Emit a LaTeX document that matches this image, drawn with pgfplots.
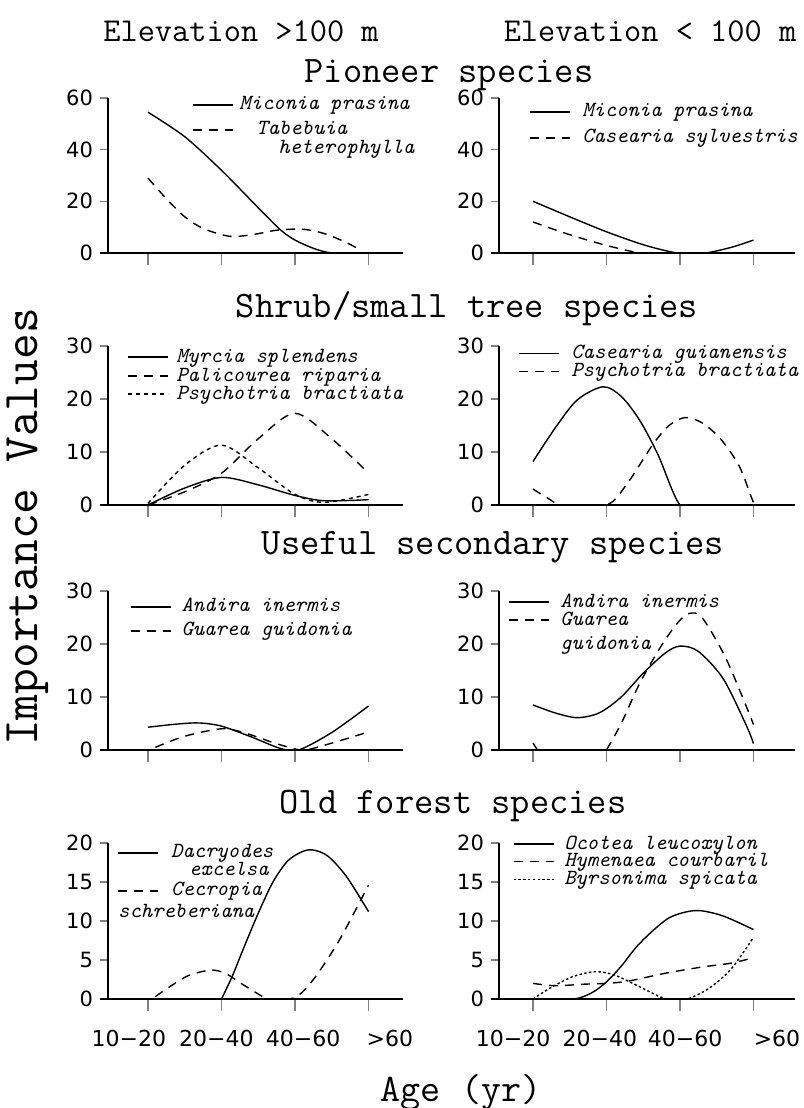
\documentclass[border=0pt]{standalone}
\usepackage{fontspec}
\usepackage{pgfplots}
\pgfplotsset{compat=1.18}
\newfontfamily\tickfont{DejaVu Sans}
\newcommand{\LE}[2]{\vrule height #1 depth 2.4pt width 0pt\relax #2}
\tikzset{
  dsh/.style={dash pattern=on 4.5pt off 3.5pt},
  dtt/.style={dash pattern=on 2pt off 2pt},
  fdt/.style={dash pattern=on 1.2pt off 1.2pt},
}
\pgfplotsset{
  panel/.style={
    scale only axis, anchor=south west,
    axis x line*=bottom, axis y line*=left,
    axis line style={-, line width=0.6pt},
    x axis line style={shorten <=-4pt},
    tick align=outside, major tick length=4pt,
    xtick style={/pgfplots/major tick length=6pt, line width=0.6pt},
    ytick style={line width=0.6pt},
    xtick={0,1,2,3}, xticklabels={{},{},{},{}},
    ymin=0,
    /pgf/number format/assume math mode=true,
    yticklabel style={font=\tickfont\fontsize{10.5}{12}\selectfont},
    xticklabel style={font=\tickfont\fontsize{11}{14}\selectfont, yshift=-12pt},
    every axis plot/.append style={line width=0.7pt, smooth, tension=0.5},
    legend image code/.code={\draw[##1] (0pt,2.5pt) -- (20pt,2.5pt);},
    legend style={draw=none, fill=none, inner sep=0pt, outer sep=0pt, anchor=north west,
      cells={anchor=base west},
      nodes={inner sep=0pt, font=\ttfamily\itshape\fontsize{10.8}{10.5}\selectfont},
      row sep=0pt},
  },
  lcol/.style={panel, width=147.5pt, xmin=-0.544, xmax=3.469},
  rcol/.style={panel, width=148pt, xmin=-0.463, xmax=3.565},
  agelabels/.style={
    extra x tick labels={10−20,20−40,40−60,>60},
    extra x tick style={xtick style={draw=none}, major tick length=0pt},
  },
}
\begin{document}
\begin{tikzpicture}
\useasboundingbox (0,0) rectangle (401.5pt,554pt);

% titles
\node[font=\ttfamily\fontsize{16.7}{20}\selectfont] at (120.5pt,538.5pt) {Elevation >100 m};
\node[font=\ttfamily\fontsize{16.7}{20}\selectfont] at (325pt,538.5pt) {Elevation < 100 m};
\node[font=\ttfamily\fontsize{18.7}{22}\selectfont] at (224.5pt,516.5pt) {Pioneer species};
\node[font=\ttfamily\fontsize{18.7}{22}\selectfont] at (233.5pt,399.5pt) {Shrub/small tree species};
\node[font=\ttfamily\fontsize{18.7}{22}\selectfont] at (246.5pt,280.5pt) {Useful secondary species};
\node[font=\ttfamily\fontsize{18.7}{22}\selectfont] at (226.5pt,151pt) {Old forest species};
\node[font=\ttfamily\fontsize{19.5}{22}\selectfont] at (230.5pt,8pt) {Age (yr)};
\node[rotate=90, font=\ttfamily\fontsize{25}{28}\selectfont] at (14pt,290.5pt) {Importance Values};

% Row 1 left
\begin{axis}[lcol, at={(54pt,427.5pt)}, height=77.5pt, ymax=60, ytick={0,20,40,60},
  legend style={at={(0.285,1.013)}, column sep=3pt}]
\addplot[black] coordinates {(0,54.5) (0.5,45) (1,32) (1.5,17.5) (1.8,9) (2,5) (2.25,1.8) (2.45,0.2) (2.6,0) (3,0)};
\addlegendentry{\LE{7pt}{Miconia prasina}}
\addplot[black,dsh] coordinates {(0,29) (0.25,21) (0.5,14) (0.75,9.5) (1.1,6.5) (1.4,7) (1.75,8.8) (2.1,9.2) (2.4,7.5) (2.7,4) (2.9,1)};
\addlegendentry{\LE{11pt}{\hspace*{8.5pt}Tabebuia}}
\addlegendimage{empty legend}
\addlegendentry{\LE{8pt}{\hspace*{19.5pt}heterophylla}}
\end{axis}

% Row 1 right
\begin{axis}[rcol, at={(249.5pt,427.5pt)}, height=77.5pt, ymax=60, ytick={0,20,40,60},
  legend style={at={(0.101,0.968)}, column sep=6pt}]
\addplot[black] coordinates {(0,20) (0.5,14) (1,8.2) (1.5,3.2) (1.9,0.3) (2.1,0) (2.35,0) (2.7,2.2) (3,5)};
\addlegendentry{\LE{7pt}{Miconia prasina}}
\addplot[black,dsh] coordinates {(0,12) (0.4,8) (0.8,4.5) (1.1,2.2) (1.4,0.3) (1.6,0)};
\addlegendentry{\LE{11.5pt}{Casearia sylvestris}}
\end{axis}

% Row 2 left
\begin{axis}[lcol, at={(54pt,301.5pt)}, height=79.5pt, ymax=30, ytick={0,10,20,30},
  legend style={at={(0.064,0.987)}, column sep=4pt}]
\addplot[black] coordinates {(0,0) (0.5,3.2) (1,5.2) (1.5,3.8) (2,1.8) (2.4,0.8) (3,1)};
\addlegendentry{\LE{7pt}{Myrcia splendens}}
\addplot[black,dsh] coordinates {(0,0) (0.5,2.5) (1,6) (1.5,12.5) (2,17.3) (2.5,12.5) (3,6)};
\addlegendentry{\LE{8pt}{Palicourea riparia}}
\addplot[black,dtt] coordinates {(0,0.3) (0.5,7.5) (1,11.3) (1.5,7) (2,2) (2.4,0.5) (3,2)};
\addlegendentry{\LE{7.5pt}{Psychotria bractiata}}
\end{axis}

% Row 2 right
\begin{axis}[rcol, at={(249.5pt,301.5pt)}, height=79.5pt, ymax=30, ytick={0,10,20,30},
  legend style={at={(0.064,1.01)}, column sep=6pt}]
\addplot[black] coordinates {(0,8.2) (0.3,14.5) (0.6,19.8) (0.95,22.3) (1.2,20.5) (1.45,16) (1.7,9.5) (2,0) (2.3,0)};
\addlegendentry{\LE{7pt}{Casearia guianensis}}
\addplot[black,dsh] coordinates {(0,3) (0.2,1.3) (0.4,0) (1.0,0) (1.28,4) (1.63,11.4) (1.85,15) (2.07,16.5) (2.3,15.5) (2.55,12.5) (2.8,7.5) (2.97,1.5) (3,0.5)};
\addlegendentry{\LE{7.6pt}{Psychotria bractiata}}
\end{axis}

% Row 3 left
\begin{axis}[lcol, at={(54pt,179pt)}, height=79.5pt, ymax=30, ytick={0,10,20,30},
  legend style={at={(0.075,0.956)}, column sep=5pt}]
\addplot[black] coordinates {(0,4.3) (0.4,4.9) (0.7,5.1) (1,4.5) (1.4,2.5) (1.8,0.3) (2.05,0) (2.5,3.3) (3,8.3)};
\addlegendentry{\LE{7pt}{Andira inermis}}
\addplot[black,dsh] coordinates {(0.1,0.5) (0.5,2.6) (1,4) (1.3,3.3) (1.7,1.4) (2,0.2) (2.15,0) (2.5,1.3) (3,3.4)};
\addlegendentry{\LE{10.5pt}{Guarea guidonia}}
\end{axis}

% Row 3 right
\begin{axis}[rcol, at={(249.5pt,179pt)}, height=79.5pt, ymax=30, ytick={0,10,20,30},
  legend style={at={(0.03,0.987)}, column sep=5.5pt}]
\addplot[black] coordinates {(0,8.5) (0.3,7) (0.6,6.1) (0.9,7) (1.2,10) (1.5,14.5) (1.8,18.3) (2.0,19.6) (2.25,18.6) (2.59,13.4) (2.91,4.4) (3,1.2)};
\addlegendentry{\LE{7pt}{Andira inermis}}
\addplot[black,dsh] coordinates {(1,0) (1.2,5) (1.46,12.8) (1.77,20.2) (2.0,24.5) (2.14,25.8) (2.3,25) (2.6,18) (2.85,10) (3,4.8)};
\addlegendentry{\LE{7.5pt}{Guarea}}
\addlegendimage{empty legend}
\addlegendentry{\LE{10.5pt}{guidonia}}
\addplot[black,dsh,sharp plot,forget plot] coordinates {(0,1.3) (0.06,0)};
\end{axis}

% Row 4 left
\begin{axis}[lcol, at={(54pt,54.5pt)}, height=78pt, ymax=20, ytick={0,5,10,15,20},
  extra x ticks={-0.26,0.93,2.11,3.29}, agelabels,
  legend style={at={(0.03,0.994)}, column sep=6.5pt}]
\addplot[black] coordinates {(1,0) (1.15,3) (1.3,6.5) (1.5,11) (1.7,15) (1.9,17.7) (2.1,18.9) (2.25,19.1) (2.45,18.3) (2.7,15.7) (3,11.2)};
\addlegendentry{\LE{7pt}{Dacryodes}}
\addlegendimage{empty legend}
\addlegendentry{\LE{7.5pt}{\hspace*{9pt}excelsa}}
\addplot[black,dsh] coordinates {(0.1,0.3) (0.3,1.6) (0.55,3) (0.85,3.7) (1.05,3.3) (1.3,1.8) (1.6,0.1) (1.7,0) (2.0,0.2) (2.25,2.5) (2.6,7.5) (3,14.6)};
\addlegendentry{\LE{8.5pt}{Cecropia}}
\addlegendimage{empty legend}
\addlegendentry{\LE{9.5pt}{\hspace*{-26.5pt}schreberiana}}
\end{axis}

% Row 4 right
\begin{axis}[rcol, at={(249.5pt,54.5pt)}, height=78pt, ymax=20, ytick={0,5,10,15,20},
  extra x ticks={-0.27,0.91,2.07,3.32}, agelabels,
  legend style={at={(0.047,1.05)}, column sep=5pt}]
\addplot[black] coordinates {(0,0) (0.55,0) (0.8,0.8) (1,2.2) (1.2,4.2) (1.4,6.6) (1.6,8.5) (1.85,10.4) (2.1,11.2) (2.3,11.3) (2.6,10.6) (3,8.9)};
\addlegendentry{\LE{7pt}{Ocotea leucoxylon}}
\addplot[black,dsh] coordinates {(0,2) (0.3,1.7) (0.7,1.9) (1,2.0) (1.3,2.3) (1.8,3.3) (2.3,4.1) (2.7,4.6) (3,5.3)};
\addlegendentry{\LE{7.2pt}{Hymenaea courbaril}}
\addplot[black,fdt] coordinates {(0,0) (0.25,1.5) (0.55,2.9) (0.85,3.5) (1.1,3.1) (1.4,1.8) (1.75,0.2) (1.9,0) (2.1,0) (2.4,1.4) (2.7,3.9) (3,7.9)};
\addlegendentry{\LE{7.4pt}{Byrsonima spicata}}
\end{axis}
\end{tikzpicture}
\end{document}
